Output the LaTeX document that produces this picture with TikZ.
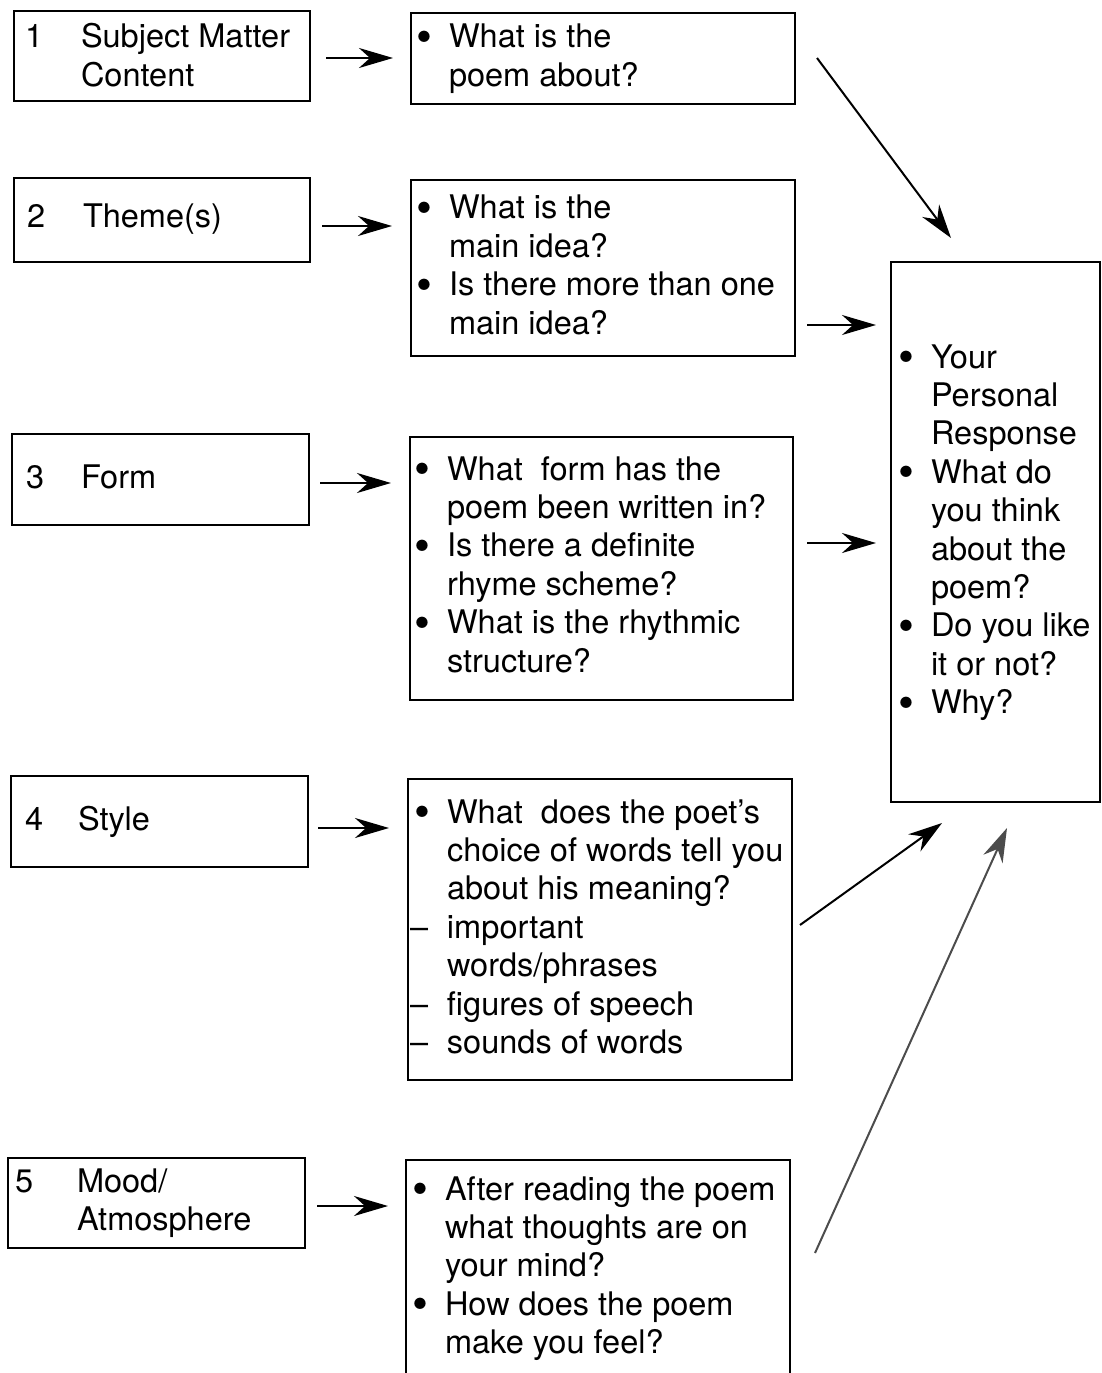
\documentclass[tikz,border=0pt]{standalone}
\usepackage{fontspec}
\usepackage{graphicx}
\setmainfont{TeX Gyre Heros}
\usetikzlibrary{arrows.meta}
\newcommand\bul{\makebox[0pt][c]{\raisebox{-4.5bp}{\scalebox{1.4}{\textbullet}}}\hspace*{25bp}}
\newcommand\ind{\hspace*{25bp}}
\newcommand\dsh{\makebox[0pt][l]{\hspace*{-12bp}\textendash}\hspace*{25bp}}
\newcommand\lns[1]{\begin{tabular}[t]{@{}l@{}}#1\end{tabular}}
\begin{document}
\begin{tikzpicture}[x=1bp,y=-1bp,
  box/.style={draw, line width=2.4bp, rectangle, anchor=north west, inner sep=0pt, outer sep=0pt},
  txt/.style={anchor=base west, inner sep=0pt, outer sep=0pt, font=\fontsize{32.5bp}{38.4bp}\selectfont},
  arr/.style={line width=2.4bp, -{Stealth[length=34bp,width=20bp,inset=11bp]}},
  darr/.style={line width=2bp, -{Stealth[length=34bp,width=21bp,inset=11bp]}}]
\useasboundingbox (0,0) rectangle (1101,1373);
\fill[white] (0,0) rectangle (1101,1373);
\begin{scope}
\clip (0,0) rectangle (1101,1373);
% left boxes
\node[box, minimum width=296bp, minimum height=90bp] (b1) at (14,11) {};
\node[box, minimum width=296bp, minimum height=84bp] (b2) at (14,178) {};
\node[box, minimum width=297bp, minimum height=91bp] (b3) at (12,434) {};
\node[box, minimum width=297bp, minimum height=91bp] (b4) at (11,776) {};
\node[box, minimum width=297bp, minimum height=90bp] (b5) at (8,1158) {};
% question boxes
\node[box, minimum width=384bp, minimum height=91bp] (q1) at (411,13) {};
\node[box, minimum width=384bp, minimum height=176bp] (q2) at (411,180) {};
\node[box, minimum width=383bp, minimum height=263bp] (q3) at (410,437) {};
\node[box, minimum width=384bp, minimum height=301bp] (q4) at (408,779) {};
\node[box, minimum width=384bp, minimum height=240bp] (q5) at (406,1160) {};
% response box
\node[box, minimum width=209bp, minimum height=540bp] (r) at (891,262) {};
\end{scope}
% left texts
\node[txt] (n1) at (25,48) {1};
\node[txt] (t1) at (81,48) {\lns{Subject Matter\\Content}};
\node[txt] (n2) at (27,228) {2};
\node[txt] (t2) at (83,228) {Theme(s)};
\node[txt] (n3) at (26,488) {3};
\node[txt] (t3) at (81,488) {Form};
\node[txt] (n4) at (25,830) {4};
\node[txt] (t4) at (78,830) {Style};
\node[txt] (n5) at (15,1192) {5};
\node[txt] (t5) at (77,1192) {\lns{Mood/\\Atmosphere}};
% question texts
\node[txt] (qt1) at (424,48) {\lns{\bul What is the\\ \ind poem about?}};
\node[txt] (qt2) at (424,219) {\lns{\bul What is the\\ \ind main idea?\\ \bul Is there more than one\\ \ind main idea?}};
\node[txt] (qt3) at (422,480) {\lns{\bul What\ \ form has the\\ \ind poem been written in?\\ \bul Is there a definite\\ \ind rhyme scheme?\\ \bul What is the rhythmic\\ \ind structure?}};
\node[txt] (qt4) at (422,823) {\lns{\bul What\ \ does the poet's\\ \ind choice of words tell you\\ \ind about his meaning?\\ \dsh important\\ \ind words/phrases\\ \dsh figures of speech\\ \dsh sounds of words}};
\node[txt] (qt5) at (420,1200) {\lns{\bul After reading the poem\\ \ind what thoughts are on\\ \ind your mind?\\ \bul How does the poem\\ \ind make you feel?}};
\node[txt] (rt) at (906,368) {\lns{\bul Your\\ \ind Personal\\ \ind Response\\ \bul What do\\ \ind you think\\ \ind about the\\ \ind poem?\\ \bul Do you like\\ \ind it or not?\\ \bul Why?}};
% arrow end points
\coordinate (a1s) at (326,58);   \coordinate (a1e) at (393,58);
\coordinate (a2s) at (322,226);  \coordinate (a2e) at (392,226);
\coordinate (a3s) at (320,483);  \coordinate (a3e) at (391,483);
\coordinate (a4s) at (318,828);  \coordinate (a4e) at (389,828);
\coordinate (a5s) at (317,1206); \coordinate (a5e) at (388,1206);
\coordinate (r2s) at (807,325);  \coordinate (r2e) at (876,325);
\coordinate (r3s) at (807,543);  \coordinate (r3e) at (876,543);
\coordinate (r1s) at (817,58);   \coordinate (r1e) at (951,238);
\coordinate (r4s) at (800,925);  \coordinate (r4e) at (942,823);
\coordinate (r5s) at (815,1253); \coordinate (r5e) at (1007,828);
\draw[arr] (a1s) -- (a1e);
\draw[arr] (a2s) -- (a2e);
\draw[arr] (a3s) -- (a3e);
\draw[arr] (a4s) -- (a4e);
\draw[arr] (a5s) -- (a5e);
\draw[arr] (r2s) -- (r2e);
\draw[arr] (r3s) -- (r3e);
\draw[darr] (r1s) -- (r1e);
\draw[darr] (r4s) -- (r4e);
\draw[darr, draw=black!70, fill=black!70] (r5s) -- (r5e);
\end{tikzpicture}
\end{document}
